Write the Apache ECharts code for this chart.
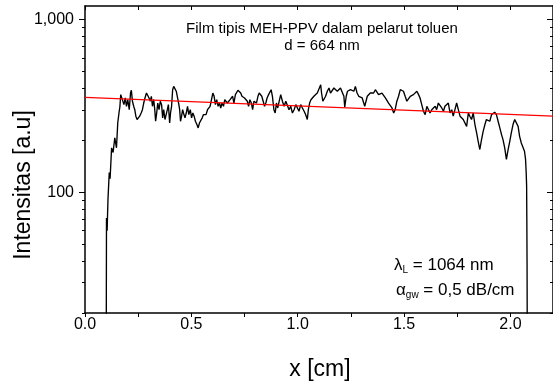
<!DOCTYPE html>
<html><head><meta charset="utf-8">
<script src="https://cdn.jsdelivr.net/npm/echarts@6/dist/echarts.min.js"></script>
<style>html,body{margin:0;padding:0;background:#fff}#c{width:553px;height:389px}</style>
</head><body><div id="c"></div>
<script>
const profileX = [0.100,0.101,0.104,0.108,0.114,0.118,0.125,0.132,0.140,0.148,0.154,0.160,0.164,0.168,
0.172,0.176,0.183,0.189,0.195,0.201,0.208,0.214,0.218,0.223,
0.229,0.234,0.239,0.245,0.251,0.257,0.264,0.270,0.276,0.282,
0.289,0.295,0.301,0.307,0.312,0.317,0.323,0.328,0.332,0.337,
0.342,0.348,0.354,0.360,0.365,0.370,0.376,0.382,0.387,0.392,
0.398,0.402,0.407,0.412,0.417,0.423,0.429,0.435,0.440,0.445,
0.449,0.454,0.459,0.463,0.470,0.476,0.482,0.488,0.495,0.501,
0.507,0.513,0.519,0.526,0.532,0.538,0.544,0.551,0.557,0.563,
0.569,0.576,0.582,0.588,0.594,0.601,0.607,0.613,0.619,0.626,
0.632,0.638,0.644,0.651,0.657,0.663,0.669,0.675,0.682,0.688,
0.694,0.700,0.707,0.713,0.719,0.725,0.732,0.738,0.744,0.750,
0.757,0.763,0.769,0.775,0.782,0.788,0.794,0.800,0.806,0.813,
0.819,0.825,0.831,0.838,0.844,0.850,0.856,0.863,0.869,0.875,
0.881,0.888,0.894,0.900,0.906,0.913,
0.920,0.928,0.936,0.944,0.952,0.959,0.967,0.975,0.983,0.991,
0.998,1.006,1.014,1.022,1.030,1.037,1.045,1.050,1.056,1.062,
1.069,1.076,1.084,1.092,1.100,1.108,1.112,1.118,1.125,1.131,
1.139,1.147,1.154,1.162,1.170,1.178,1.186,1.193,1.201,1.209,
1.217,1.221,1.228,1.234,1.240,1.248,1.256,1.264,1.271,1.279,
1.287,1.295,1.303,1.310,1.315,1.321,1.327,1.334,1.341,1.349,
1.357,1.365,1.373,1.380,1.388,1.396,1.404,1.412,1.419,1.427,
1.435,1.443,1.451,1.458,1.466,1.474,1.482,1.490,1.497,1.505,
1.513,1.521,1.529,1.536,1.544,1.552,1.560,1.568,1.575,1.583,
1.591,1.599,1.607,1.614,1.622,1.630,1.638,1.646,1.653,1.661,
1.669,1.677,1.685,1.692,1.700,1.708,1.716,1.724,1.731,1.739,
1.747,1.755,1.763,1.770,1.778,1.786,1.794,1.802,1.809,1.817,
1.825,1.833,1.841,1.848,1.856,1.864,1.872,1.880,1.887,1.895,
1.903,1.911,1.919,1.926,1.934,1.942,1.950,1.958,1.965,1.973,
1.981,1.989,1.997,2.004,2.012,2.020,2.028,2.036,2.043,2.051,
2.059,2.066,2.071,2.074,2.076,2.077,2.078,2.079];
const profileI = [15,71,60,91,130,120,181,170,207,181,253,290,313,368,
360,376,322,352,315,344,301,376,390,337,
315,301,276,264,258,276,288,301,329,352,
376,385,352,337,360,315,344,301,258,288,
329,301,337,322,270,301,264,258,301,322,
252,288,315,393,411,402,385,376,329,301,
258,276,301,288,270,288,315,282,301,270,
288,276,258,247,236,252,258,270,282,288,
282,301,308,315,308,376,360,322,344,315,
329,308,329,315,344,352,329,322,344,352,
360,329,368,376,390,393,376,360,368,352,
360,337,315,344,329,301,337,344,329,360,
376,385,360,352,315,329,352,368,376,393,
360,301,288,329,308,337,
368,337,315,337,329,301,315,288,301,322,
315,295,322,308,295,282,264,301,329,344,
352,360,368,376,385,420,376,337,329,360,
385,402,376,385,402,411,385,393,402,393,
360,311,360,385,376,393,402,385,411,376,
360,368,352,360,315,337,360,368,376,385,
376,393,385,368,360,376,368,352,344,329,
329,308,288,301,337,360,393,402,385,360,
337,344,360,352,368,376,385,368,352,322,
295,282,315,308,288,301,295,315,301,329,
337,308,295,315,308,329,288,301,276,301,
329,301,276,282,264,270,241,288,276,264,
288,247,221,198,177,202,226,247,264,270,
258,282,276,291,282,258,236,216,202,181,
155,177,198,221,247,264,258,241,211,193,
198,173,155,130,109,70,40,15];
const fitX = [0, 2.2];
const fitI = [355, 276];
const xTickValues = [0, 0.25, 0.5, 0.75, 1, 1.25, 1.5, 1.75, 2];
const xLabelValues = [0, 0.5, 1, 1.5, 2];
const yMajorValues = [100, 1000];
const yMinorValues = [20,30,40,50,60,70,80,90,200,300,400,500,600,700,800,900];
const titleLines = ['Film tipis MEH-PPV dalam pelarut toluen', 'd = 664 nm'];
const xTitle = 'x [cm]';
const yTitle = 'Intensitas [a.u]';

const FONT = '"Liberation Sans", Arial, Helvetica, sans-serif';
const chart = echarts.init(document.getElementById('c'), null, {renderer: 'canvas'});
function fmtThousands(v) { return String(Math.round(v)).replace(/\B(?=(\d{3})+(?!\d))/g, ','); }
function yAx(pos, tickVals, len, inside, showLine, showLabel) {
  return {
    type: 'log', logBase: 10, min: 20, max: 1200, position: pos, offset: 0,
    axisLine: {show: showLine, lineStyle: {color: '#000', width: 1.5}},
    axisTick: {show: true, customValues: tickVals, length: len, inside: inside, lineStyle: {color: '#000', width: 1}},
    axisLabel: {show: showLabel, customValues: yMajorValues, margin: 11, fontSize: 16, color: '#000', fontFamily: FONT, formatter: fmtThousands},
    splitLine: {show: false}, minorTick: {show: false}
  };
}
function xAx(pos, inside, showLabel) {
  return {
    type: 'value', min: 0, max: 2.2, position: pos,
    axisLine: {show: true, lineStyle: {color: '#000', width: 1.5}},
    axisTick: {show: true, customValues: xTickValues, length: 4, inside: inside, lineStyle: {color: '#000', width: 1}},
    axisLabel: {show: showLabel, customValues: xLabelValues, margin: 4, fontSize: 16, color: '#000', fontFamily: FONT, formatter: v => Number(v).toFixed(1)},
    splitLine: {show: false}, minorTick: {show: false}
  };
}
const subRich = {
  m: {fontSize: 17, fontFamily: FONT, lineHeight: 20, verticalAlign: 'middle', fill: '#000'},
  s: {fontSize: 10, fontFamily: FONT, lineHeight: 12, verticalAlign: 'bottom', fill: '#000'}
};
chart.setOption({
  animation: false,
  backgroundColor: '#fff',
  grid: {left: 85, right: -2, top: 6, bottom: 76},
  xAxis: [xAx('bottom', false, true), xAx('top', true, false)],
  yAxis: [
    yAx('left', yMajorValues, 6, false, true, true),
    yAx('left', yMinorValues, 3, false, false, false),
    yAx('right', yMajorValues, 6, true, true, false),
    yAx('right', yMinorValues, 3, true, false, false)
  ],
  series: [
    {type: 'line', xAxisIndex: 0, yAxisIndex: 0, showSymbol: false, symbol: 'none',
     lineStyle: {color: '#000', width: 1.35}, data: profileX.map((x, i) => [x, profileI[i]]), z: 2},
    {type: 'line', xAxisIndex: 0, yAxisIndex: 0, showSymbol: false, symbol: 'none',
     lineStyle: {color: '#ff0000', width: 1.2}, data: fitX.map((x, i) => [x, fitI[i]]), z: 3}
  ],
  graphic: [
    {type: 'text', x: 322, y: 29, style: {text: titleLines[0], font: '15px ' + FONT, fill: '#000', align: 'center', verticalAlign: 'middle'}},
    {type: 'text', x: 322, y: 46, style: {text: titleLines[1], font: '15px ' + FONT, fill: '#000', align: 'center', verticalAlign: 'middle'}},
    {type: 'text', x: 394, y: 265, style: {text: '{m|λ}{s|L}{m| = 1064 nm}', rich: subRich, align: 'left', verticalAlign: 'middle'}},
    {type: 'text', x: 396, y: 290, style: {text: '{m|α}{s|gw}{m| = 0,5 dB/cm}', rich: subRich, align: 'left', verticalAlign: 'middle'}},
    {type: 'text', x: 320, y: 370, style: {text: xTitle, font: '23px ' + FONT, fill: '#000', align: 'center', verticalAlign: 'middle'}},
    {type: 'text', x: 24, y: 185, rotation: Math.PI / 2, style: {text: yTitle, font: '23px ' + FONT, fill: '#000', align: 'center', verticalAlign: 'middle'}}
  ]
});
</script></body></html>
